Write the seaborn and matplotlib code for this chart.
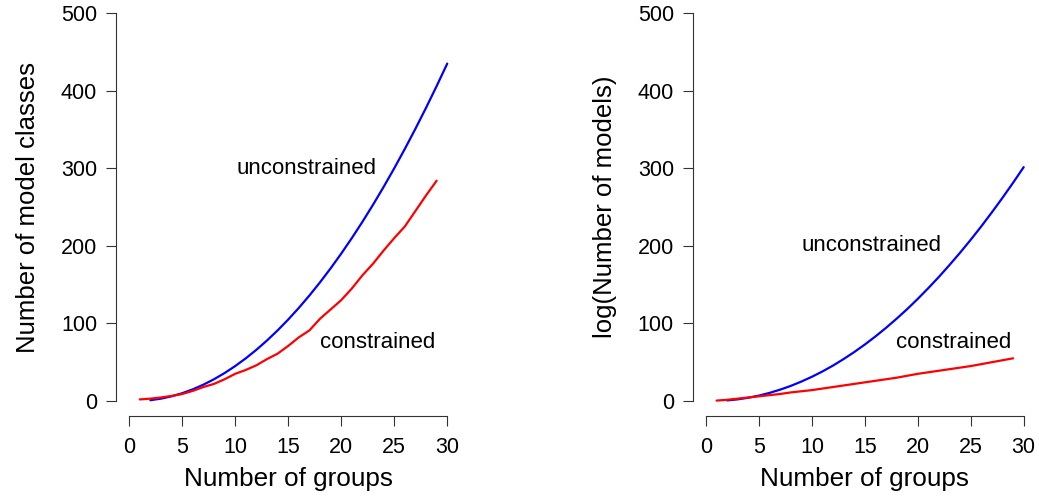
#Number of model classes / models vs number of groups
#Two panels, R base-graphics look (detached axes, no box)

import pandas as pd
import numpy as np
import matplotlib
matplotlib.use('Agg')
import matplotlib.pyplot as plt
import seaborn as sns

sns.set_style('ticks')
plt.rcParams['font.family'] = ['Liberation Sans', 'DejaVu Sans']
plt.rcParams['text.color'] = 'black'
plt.rcParams['axes.labelcolor'] = 'black'
plt.rcParams['xtick.labelcolor'] = 'black'
plt.rcParams['ytick.labelcolor'] = 'black'

# 1. Data

groups_unc = list(range(2, 31))
groups_con = list(range(1, 30))

classes_unc = [1, 3, 6, 10, 15, 21, 28, 36, 45, 55, 66, 78, 91, 105, 120, 136, 153,
               171, 190, 210, 231, 253, 276, 300, 325, 351, 378, 406, 435]
classes_con = [2, 3, 4.5, 6.5, 9, 13, 18, 22, 28, 35, 40, 46, 54, 61, 71, 82, 91,
               106, 118, 130, 145, 162, 177, 194, 210, 225, 245, 265, 284]

logmodels_unc = [0.7, 2.1, 4.2, 6.9, 10.4, 14.6, 19.4, 25.0, 31.2, 38.1, 45.7, 54.1,
                 63.1, 72.8, 83.2, 94.3, 106.1, 118.5, 131.7, 145.6, 160.1, 175.4,
                 191.3, 207.9, 225.2, 243.3, 262.0, 281.4, 301.5]
logmodels_con = [0.5, 1.5, 3, 4.5, 6, 7.5, 9, 11, 12.5, 14, 16, 18, 20, 22, 24, 26,
                 28, 30, 32.5, 35, 37, 39, 41, 43, 45, 47.5, 50, 52.5, 55]

# 2. Build long tables for seaborn

def make_df(unc, con):
    a = pd.DataFrame({'groups': groups_unc, 'value': unc, 'type': 'unconstrained'})
    b = pd.DataFrame({'groups': groups_con, 'value': con, 'type': 'constrained'})
    return pd.concat([a, b], ignore_index=True)

df_left = make_df(classes_unc, classes_con)
df_right = make_df(logmodels_unc, logmodels_con)

palette = {'unconstrained': '#0000FF', 'constrained': '#FF0000'}

# 3. Plot

fig = plt.figure(figsize=(10.39, 4.98), dpi=100)
ax1 = fig.add_axes([0.1121, 0.1637, 0.3306, 0.841])
ax2 = fig.add_axes([0.6673, 0.1637, 0.3302, 0.841])

panels = [
    (ax1, df_left, 'Number of model classes', (16.7, 300), (23.4, 75)),
    (ax2, df_right, 'log(Number of models)', (15.65, 200), (23.4, 76)),
]

for ax, d, ylab, pos_unc, pos_con in panels:
    sns.lineplot(data=d, x='groups', y='value', hue='type', palette=palette,
                 linewidth=1.6, legend=False, ax=ax)
    ax.set_xlim(-1.2, 31.2)
    ax.set_ylim(-20, 520)
    ax.set_xticks(range(0, 31, 5))
    ax.set_yticks(range(0, 501, 100))
    ax.set_xlabel('Number of groups', fontsize=18.8, labelpad=6)
    ax.set_ylabel(ylab, fontsize=18.5, labelpad=15)
    ax.tick_params(axis='both', labelsize=15.5, length=7, width=0.8,
                   color='#333333', direction='out')
    ax.tick_params(axis='x', pad=8)
    ax.tick_params(axis='y', pad=7)

    # R-style detached axes
    for s in ['top', 'right']:
        ax.spines[s].set_visible(False)
    ax.spines['left'].set_bounds(0, 500)
    ax.spines['bottom'].set_bounds(0, 30)
    ax.spines['left'].set_color('#333333')
    ax.spines['bottom'].set_color('#333333')
    ax.patch.set_alpha(0)

    ax.text(pos_unc[0], pos_unc[1], 'unconstrained', fontsize=16,
            ha='center', va='center')
    ax.text(pos_con[0], pos_con[1], 'constrained', fontsize=16,
            ha='center', va='center')

plt.savefig('out.png', dpi=100)
